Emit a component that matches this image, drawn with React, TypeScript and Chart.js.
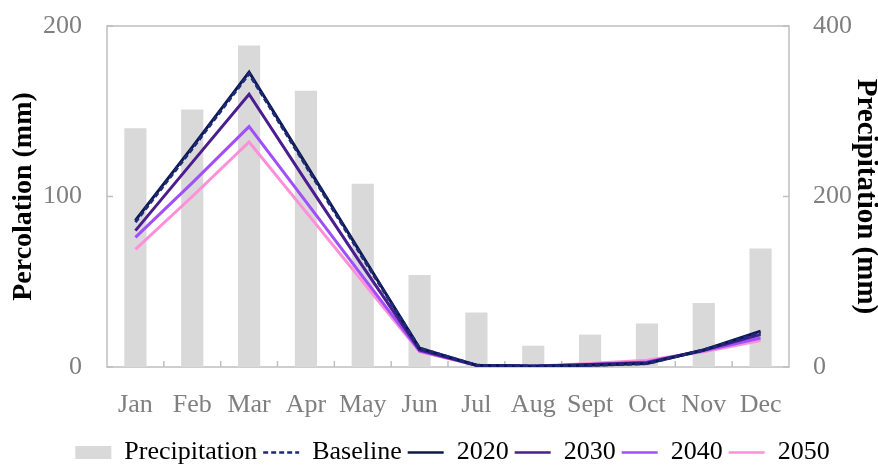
import React, { useEffect, useRef } from "react";
import { Chart, registerables } from "chart.js";

Chart.register(...registerables);

const months = ["Jan", "Feb", "Mar", "Apr", "May", "Jun", "Jul", "Aug", "Sept", "Oct", "Nov", "Dec"];
const precipitation = [280, 302, 377, 324, 215, 108, 64, 25, 38, 51, 75, 139];
const baseline = [85, 128, 172, 118, 64, 11, 1, 0.5, 1, 2, 10, 20];
const y2020 = [86, 129, 173, 119, 65, 11, 1, 0.5, 1, 2, 10, 21];
const y2030 = [80, 120, 160, 109, 59, 10, 1, 0.5, 1.5, 2.5, 10, 19];
const y2040 = [76, 108, 141, 97, 53, 9.5, 1, 0.5, 1.5, 3, 9.5, 17];
const y2050 = [69, 100, 132, 91, 50, 9, 1, 0.5, 2, 4, 9, 15.5];
const percolationTicks = [0, 100, 200];
const precipitationTicks = [0, 200, 400];

const SERIF = "'Liberation Serif', 'DejaVu Serif', serif";
const TICK_COLOR = "#7f7f7f";
const FRAME_COLOR = "#bfbfbf";

const framePlugin = {
  id: "frame",
  beforeDatasetsDraw(chart: any) {
    const { ctx, chartArea, scales } = chart;
    const { left, right, top, bottom } = chartArea;
    ctx.save();
    ctx.strokeStyle = FRAME_COLOR;
    ctx.lineWidth = 1.5;
    ctx.strokeRect(left, top, right - left, bottom - top);
    ctx.beginPath();
    percolationTicks.forEach((v) => {
      const py = scales.y.getPixelForValue(v);
      ctx.moveTo(left, py);
      ctx.lineTo(left + 6, py);
    });
    precipitationTicks.forEach((v) => {
      const py = scales.y2.getPixelForValue(v);
      ctx.moveTo(right - 6, py);
      ctx.lineTo(right, py);
    });
    for (let i = 0; i < months.length - 1; i++) {
      const px = scales.x.getPixelForValue(i + 0.5);
      ctx.moveTo(px, bottom);
      ctx.lineTo(px, bottom - 6);
    }
    ctx.stroke();
    ctx.restore();
  },
};

function lineDs(label: string, data: number[], color: string, dash: number[] = []) {
  return {
    type: "line" as const,
    label,
    data,
    borderColor: color,
    backgroundColor: color,
    borderWidth: 3,
    borderDash: dash,
    pointRadius: 0,
    tension: 0,
    yAxisID: "y",
    order: 1,
  };
}

export default function App() {
  const ref = useRef<HTMLCanvasElement | null>(null);

  useEffect(() => {
    if (!ref.current) return;
    const chart = new Chart(ref.current, {
      type: "bar",
      data: {
        labels: months,
        datasets: [
          {
            type: "bar",
            label: "Precipitation",
            data: precipitation,
            backgroundColor: "#d9d9d9",
            borderWidth: 0,
            yAxisID: "y2",
            categoryPercentage: 1,
            barPercentage: 0.39,
            order: 10,
          } as any,
          lineDs("Baseline", baseline, "#1c2a78", [5, 3]),
          lineDs("2020", y2020, "#0d1850"),
          lineDs("2030", y2030, "#4b1d8e"),
          lineDs("2040", y2040, "#a14ffb"),
          lineDs("2050", y2050, "#ff8fd8"),
        ],
      },
      options: {
        responsive: false,
        animation: false,
        devicePixelRatio: 1,
        layout: { padding: { top: 26, left: 27, right: 0, bottom: -9.5 } },
        font: { family: SERIF },
        plugins: {
          tooltip: { enabled: false },
          legend: {
            position: "bottom",
            labels: {
              usePointStyle: true,
              pointStyleWidth: 36,
              boxHeight: 13,
              padding: 6,
              color: "#000",
              font: { family: SERIF, size: 26, lineHeight: 1 },
              generateLabels: (c: any) =>
                c.data.datasets.map((ds: any, i: number) => {
                  const isBar = ds.type === "bar";
                  return {
                    text: ds.label,
                    fillStyle: isBar ? ds.backgroundColor : ds.borderColor,
                    strokeStyle: isBar ? ds.backgroundColor : ds.borderColor,
                    lineWidth: isBar ? 0 : 2.5,
                    lineDash: ds.borderDash || [],
                    pointStyle: isBar ? "rect" : "line",
                    hidden: false,
                    datasetIndex: i,
                    fontColor: "#000",
                  };
                }),
            },
          },
        },
        scales: {
          x: {
            offset: true,
            grid: { display: false, drawTicks: false },
            border: { display: false },
            ticks: {
              color: TICK_COLOR,
              font: { family: SERIF, size: 26, lineHeight: 1.2 },
              padding: 23,
              maxRotation: 0,
              minRotation: 0,
              autoSkip: false,
            },
            afterFit: (s: any) => {
              s.height = 66.5;
            },
          },
          y: {
            position: "left",
            min: 0,
            max: 200,
            grid: { display: false, drawTicks: false },
            border: { display: false },
            afterBuildTicks: (s: any) => {
              s.ticks = percolationTicks.map((v) => ({ value: v }));
            },
            ticks: {
              color: TICK_COLOR,
              font: { family: SERIF, size: 26 },
              padding: 25,
            },
            title: {
              display: true,
              text: "Percolation (mm)",
              color: "#000",
              font: { family: SERIF, size: 28, weight: "bold", lineHeight: 1 },
              padding: { top: -17, bottom: 0 },
            },
            afterFit: (s: any) => {
              s.width = 80;
              s.paddingTop = 0;
              s.paddingBottom = 0;
            },
          },
          y2: {
            position: "right",
            min: 0,
            max: 400,
            grid: { display: false, drawTicks: false },
            border: { display: false },
            afterBuildTicks: (s: any) => {
              s.ticks = precipitationTicks.map((v) => ({ value: v }));
            },
            ticks: {
              color: TICK_COLOR,
              font: { family: SERIF, size: 26 },
              padding: 24,
            },
            title: {
              display: true,
              text: "Precipitation (mm)",
              color: "#000",
              font: { family: SERIF, size: 29, weight: "bold", lineHeight: 1 },
              padding: { top: -2, bottom: 0 },
            },
            afterFit: (s: any) => {
              s.width = 89;
              s.paddingTop = 0;
              s.paddingBottom = 0;
            },
          },
        },
      } as any,
      plugins: [framePlugin],
    });
    return () => chart.destroy();
  }, []);

  return (
    <div style={{ position: "fixed", left: 0, top: 0, width: 878, height: 466, background: "#fff" }}>
      <canvas ref={ref} width={878} height={466} style={{ display: "block" }} />
    </div>
  );
}
